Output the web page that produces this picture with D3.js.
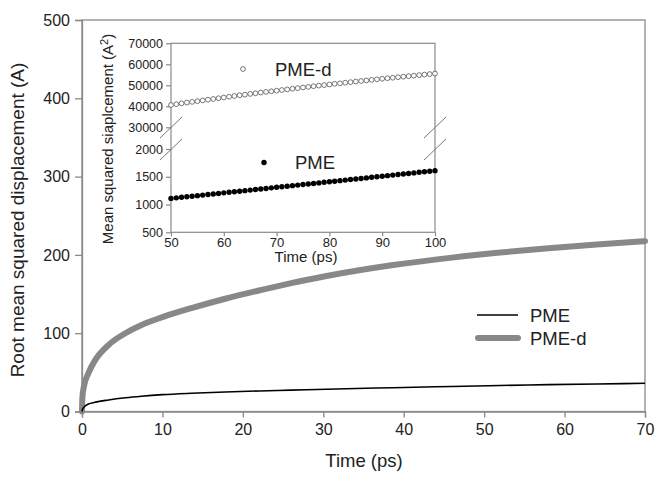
<!DOCTYPE html>
<html><head><meta charset="utf-8">
<script src="https://cdn.jsdelivr.net/npm/d3@7"></script>
<style>body{margin:0;background:#fff}svg{display:block}text{font-family:"Liberation Sans",Arial,sans-serif;fill:#222}</style>
</head><body>
<script>
// Main chart data (RMSD, Å)
const mainTime = [0, 0.05, 0.2, 0.8, 1.6, 3.3, 5.4, 7.4, 10, 13.6, 17.8, 22, 26, 30.4, 38.7, 46, 52, 58, 64, 70];
const mainPMEd = [0, 18, 30, 49, 65, 85, 100, 110.5, 120.5, 132, 144, 154.5, 164, 173, 187, 196.5, 203, 208.5, 213.3, 217.5];
const mainPME  = [0, 2.5, 5, 9.5, 11.7, 14.7, 17.5, 19.5, 21.5, 23.3, 24.9, 26.2, 27.3, 28.5, 30.4, 32, 33.2, 34.3, 35.2, 36];
const mainXTicks = [0, 10, 20, 30, 40, 50, 60, 70];
const mainYTicks = [0, 100, 200, 300, 400, 500];

// Inset data (MSD, Å^2)
const insetTime = [50,51,52,53,54,55,56,57,58,59,60,61,62,63,64,65,66,67,68,69,70,71,72,73,74,75,76,77,78,79,80,81,82,83,84,85,86,87,88,89,90,91,92,93,94,95,96,97,98,99,100];
const insetPMEd = [40600,41000,41400,41750,42100,42450,42800,43150,43500,43850,44200,44550,44900,45250,45550,45900,46200,46550,46850,47150,47450,47750,48050,48350,48650,48950,49250,49550,49850,50100,50400,50700,50950,51250,51500,51800,52050,52300,52600,52850,53100,53350,53600,53850,54100,54350,54600,54850,55100,55350,55600];
const insetPME  = [1110,1120,1130,1140,1150,1160,1170,1180,1190,1200,1210,1220,1230,1240,1250,1260,1270,1280,1290,1300,1310,1320,1330,1340,1350,1360,1370,1380,1390,1400,1410,1420,1430,1440,1450,1460,1470,1480,1490,1500,1510,1520,1530,1540,1550,1560,1570,1580,1590,1600,1610];
const insetXTicks = [50, 60, 70, 80, 90, 100];
const insetUpperTicks = [30000, 40000, 50000, 60000, 70000];
const insetLowerTicks = [500, 1000, 1500, 2000];

const W = 655, H = 477, axisCol = "#8a8a8a";
const svg = d3.select("body").append("svg").attr("width", W).attr("height", H);
const fmt = d3.format("d");

// ---------- main chart ----------
const x = d3.scaleLinear().domain([0, 70]).range([82, 645]);
const y = d3.scaleLinear().domain([0, 500]).range([411.5, 20]);

svg.append("rect").attr("x", 82).attr("y", 20).attr("width", 563).attr("height", 391.5)
  .attr("fill", "none").attr("stroke", axisCol).attr("stroke-width", 1.3);

const gx = svg.append("g").attr("transform", "translate(0,411.5)")
  .call(d3.axisBottom(x).tickValues(mainXTicks).tickFormat(fmt).tickSize(6).tickPadding(6));
const gy = svg.append("g").attr("transform", "translate(82,0)")
  .call(d3.axisLeft(y).tickValues(mainYTicks).tickFormat(fmt).tickSize(7).tickPadding(5));
[gx, gy].forEach(g => {
  g.selectAll("path,line").attr("stroke", axisCol).attr("stroke-width", 1.3);
  g.selectAll("text").style("font-size", "16px").attr("fill", "#222");
});

const line = d3.line().x((d, i) => x(mainTime[i])).y(d => y(d)).curve(d3.curveMonotoneX);
svg.append("path").datum(mainPMEd).attr("d", line).attr("fill", "none")
  .attr("stroke", "#888").attr("stroke-width", 6).attr("stroke-linecap", "round");
svg.append("path").datum(mainPME).attr("d", line).attr("fill", "none")
  .attr("stroke", "#000").attr("stroke-width", 1.6);

svg.append("text").attr("x", 364).attr("y", 467).attr("text-anchor", "middle")
  .style("font-size", "18.5px").text("Time (ps)");
svg.append("text").attr("transform", "translate(24,220) rotate(-90)").attr("text-anchor", "middle")
  .style("font-size", "19px").text("Root mean squared displacement (A)");

// main legend
svg.append("line").attr("x1", 477).attr("x2", 518).attr("y1", 315).attr("y2", 315)
  .attr("stroke", "#000").attr("stroke-width", 1.6);
svg.append("text").attr("x", 530).attr("y", 322).style("font-size", "18.5px").text("PME");
svg.append("line").attr("x1", 478).attr("x2", 518).attr("y1", 338).attr("y2", 338)
  .attr("stroke", "#888").attr("stroke-width", 6).attr("stroke-linecap", "round");
svg.append("text").attr("x", 530).attr("y", 345).style("font-size", "18.5px").text("PME-d");

// ---------- inset ----------
const ix = d3.scaleLinear().domain([50, 100]).range([171, 435]);
const iyU = d3.scaleLinear().domain([30000, 70000]).range([127.3, 43.3]);
const iyL = d3.scaleLinear().domain([500, 2000]).range([232.3, 149]);

svg.append("rect").attr("x", 171).attr("y", 43.3).attr("width", 264).attr("height", 189)
  .attr("fill", "#fff").attr("stroke", axisCol).attr("stroke-width", 1.2);

const igx = svg.append("g").attr("transform", "translate(0,232.3)")
  .call(d3.axisBottom(ix).tickValues(insetXTicks).tickFormat(fmt).tickSize(4).tickPadding(1));
const igyU = svg.append("g").attr("transform", "translate(171,0)")
  .call(d3.axisLeft(iyU).tickValues(insetUpperTicks).tickFormat(fmt).tickSize(5).tickPadding(3));
const igyL = svg.append("g").attr("transform", "translate(171,0)")
  .call(d3.axisLeft(iyL).tickValues(insetLowerTicks).tickFormat(fmt).tickSize(5).tickPadding(3));
[igx, igyU, igyL].forEach(g => {
  g.selectAll("line").attr("stroke", axisCol).attr("stroke-width", 1.2);
  g.select(".domain").remove();
  g.selectAll("text").style("font-size", "12.5px").attr("fill", "#222");
});
igx.selectAll("text").style("font-size", "13px");

// break marks
[171, 435].forEach(ax => {
  [138, 160].forEach(yy => {
    svg.append("line").attr("x1", ax - 11).attr("y1", yy).attr("x2", ax + 11).attr("y2", yy - 21)
      .attr("stroke", "#777").attr("stroke-width", 1);
  });
});

// inset points
svg.append("g").selectAll("circle").data(insetPMEd).join("circle")
  .attr("cx", (d, i) => ix(insetTime[i])).attr("cy", d => iyU(d)).attr("r", 2.4)
  .attr("fill", "#fff").attr("stroke", "#555").attr("stroke-width", 0.8);
svg.append("g").selectAll("circle").data(insetPME).join("circle")
  .attr("cx", (d, i) => ix(insetTime[i])).attr("cy", d => iyL(d)).attr("r", 2.7)
  .attr("fill", "#000");

// inset legend
svg.append("circle").attr("cx", 243).attr("cy", 69).attr("r", 2.4)
  .attr("fill", "#fff").attr("stroke", "#555").attr("stroke-width", 0.8);
svg.append("text").attr("x", 275).attr("y", 76).style("font-size", "18.5px").text("PME-d");
svg.append("circle").attr("cx", 264).attr("cy", 162.5).attr("r", 2.7).attr("fill", "#000");
svg.append("text").attr("x", 295).attr("y", 169).style("font-size", "18.5px").text("PME");

svg.append("text").attr("x", 306).attr("y", 262).attr("text-anchor", "middle")
  .style("font-size", "15px").text("Time (ps)");
const yl = svg.append("text").attr("transform", "translate(113,139) rotate(-90)")
  .attr("text-anchor", "middle").style("font-size", "15px");
yl.append("tspan").text("Mean squared siaplcement (A");
yl.append("tspan").attr("dy", -5).style("font-size", "11px").text("2");
yl.append("tspan").attr("dy", 5).text(")");
</script>
</body></html>
